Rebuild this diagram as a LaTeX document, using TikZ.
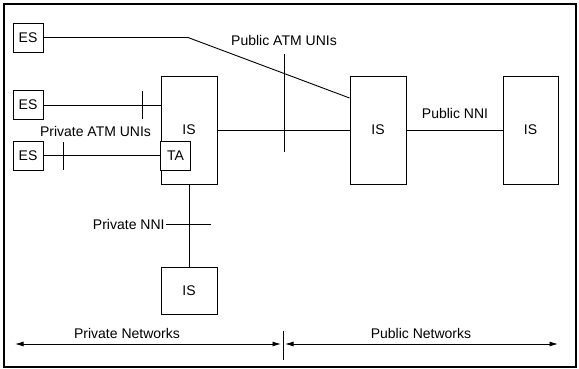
\documentclass[tikz,border=0pt]{standalone}
\usepackage{fontspec}
\setmainfont{Liberation Sans}
\usetikzlibrary{arrows.meta}
\begin{document}
\begin{tikzpicture}[x=1pt,y=-1pt,
  line width=0.9pt,
  box/.style={draw, line width=0.9pt, inner sep=0pt, font=\fontsize{14}{14}\selectfont},
  esbox/.style={box, minimum width=30pt, minimum height=29pt},
  isbox/.style={box, minimum width=56pt, minimum height=108pt},
  lbl/.style={inner sep=1pt, font=\fontsize{14}{14}\selectfont},
  span/.style={{Latex[length=8.5pt,width=5pt]}-{Latex[length=8.5pt,width=5pt]}, line width=0.9pt}]
\useasboundingbox (0,0) rectangle (579,369);
% outer frame
\draw[line width=1.7pt] (4,4) rectangle (576,367);

% end systems
\node[esbox] (es1) at (28,37.5) {ES};
\node[esbox] (es2) at (28,105) {ES};
\node[esbox] (es3) at (28,155.5) {ES};

% switches
\node[isbox] (is1) at (189,130) {IS};
\node[esbox, fill=white] (ta) at (175.5,155.5) {TA};
\node[isbox] (is2) at (378,130) {IS};
\node[isbox, minimum width=55pt] (is3) at (530.5,130) {IS};
\node[box, minimum width=56pt, minimum height=47pt] (is4) at (189,290.5) {IS};

% links
\coordinate (bend) at (188,37.5);
\draw (es1.east) -- (bend) -- ([yshift=32pt]is2.west);
\draw (es2.east) -- (es2.east -| is1.west);
\draw (es3.east) -- (ta.west);
\draw (is1.east) -- (is2.west);
\draw (is2.east) -- (is3.west);
\draw (is1.south) -- (is4.north);

% interface ticks
\draw (142,91) -- (142,119);
\draw (63,142) -- (63,170);
\draw (284,54) -- (284,152);
\node[lbl, anchor=east] (pnni) at (166,224) {Private NNI};
\draw (pnni.east) -- (210.7,224);

% interface labels
\node[lbl] (puni) at (284,40) {Public ATM UNIs};
\node[lbl] (pruni) at (95.5,131) {Private ATM UNIs};
\node[lbl] (pubnni) at (455,113) {Public NNI};

% network extents
\draw (283,330.5) -- (283,359.5);
\coordinate (privl) at (15,344);
\coordinate (privr) at (281,344);
\coordinate (publ) at (285,344);
\coordinate (pubr) at (558,344);
\draw[span] (privl) -- (privr);
\draw[span] (publ) -- (pubr);
\node[lbl] (privnet) at (127,333) {Private Networks};
\node[lbl] (pubnet) at (421,333) {Public Networks};
\end{tikzpicture}
\end{document}
